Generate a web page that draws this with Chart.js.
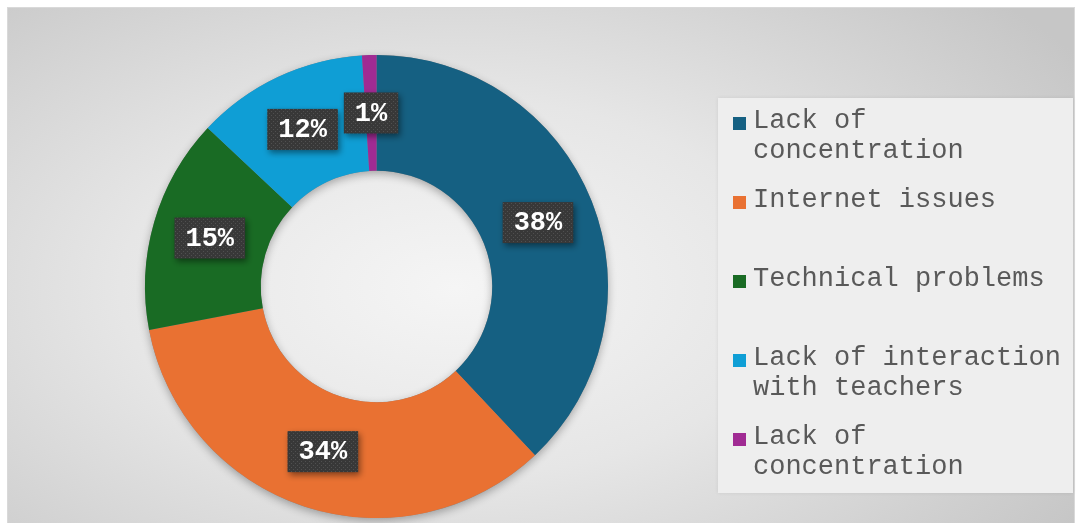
<!DOCTYPE html>
<html>
<head>
<meta charset="utf-8">
<script src="https://cdn.jsdelivr.net/npm/chart.js@4"></script>
<style>
  html, body { margin: 0; padding: 0; background: #ffffff; overflow: hidden; }
  #wrap { position: relative; width: 1082px; height: 523px; }
  #frame {
    position: absolute; left: 7px; top: 7px; width: 1068px; height: 540px;
    border: 1px solid #d9d9d9; box-sizing: border-box;
    background: radial-gradient(ellipse 70% 78% at 42% 52%, #f5f5f5 0%, #e6e6e6 45%, #c6c6c6 100%);
  }
  #chart { position: absolute; left: 0; top: 0; }
  #legend {
    position: absolute; left: 718px; top: 98px; width: 355px; height: 395px;
    background: #eeeeee; box-shadow: 0 0 4px rgba(0,0,0,0.08);
    font-family: 'Courier New', 'Liberation Mono', monospace; font-size: 27px;
    color: #595959;
  }
  .item { position: absolute; left: 15px; width: 316px; padding-left: 20px; line-height: 30px; }
  .mark { position: absolute; left: 0; top: 11px; width: 13px; height: 13px; }
</style>
</head>
<body>
<div id="wrap">
  <div id="frame"></div>
  <canvas id="chart" width="1082" height="523"></canvas>
  <div id="legend"></div>
</div>
<script>
const categories = [
  'Lack of concentration',
  'Internet issues',
  'Technical problems',
  'Lack of interaction with teachers',
  'Lack of concentration'
];
const shares = [38, 34, 15, 12, 1];
const colors = ['#156082', '#e97132', '#196b24', '#0f9ed5', '#a02b93'];

document.addEventListener('DOMContentLoaded', () => {
    const legendEl = document.getElementById('legend');
    categories.forEach((name, i) => {
        const item = document.createElement('div');
        item.className = 'item';
        item.style.top = (8 + i * 79) + 'px';
        const mark = document.createElement('span');
        mark.className = 'mark';
        mark.style.background = colors[i];
        item.appendChild(mark);
        item.appendChild(document.createTextNode(name));
        legendEl.appendChild(item);
    });

    // dotted dark fill used behind the data labels
    const pat = document.createElement('canvas');
    pat.width = 4; pat.height = 4;
    const pctx = pat.getContext('2d');
    pctx.fillStyle = '#383838';
    pctx.fillRect(0, 0, 4, 4);
    pctx.fillStyle = '#505050';
    pctx.fillRect(1, 1, 1, 1);
    pctx.fillRect(3, 3, 1, 1);

    const ringShadow = {
        id: 'ringShadow',
        beforeDatasetsDraw(chart) {
            const arc = chart.getDatasetMeta(0).data[0];
            if (!arc) return;
            const ctx = chart.ctx;
            ctx.save();
            ctx.shadowColor = 'rgba(0,0,0,0.3)';
            ctx.shadowBlur = 9;
            ctx.shadowOffsetY = 3;
            ctx.fillStyle = '#888888';
            ctx.beginPath();
            ctx.arc(arc.x, arc.y, arc.outerRadius, 0, Math.PI * 2);
            ctx.arc(arc.x, arc.y, arc.innerRadius, 0, Math.PI * 2, true);
            ctx.fill('evenodd');
            ctx.restore();
        }
    };

    const boxLabels = {
        id: 'boxLabels',
        afterDatasetsDraw(chart) {
            const ctx = chart.ctx;
            const meta = chart.getDatasetMeta(0);
            ctx.save();
            ctx.font = 'bold 27px "Courier New", "Liberation Mono", monospace';
            ctx.textAlign = 'center';
            ctx.textBaseline = 'middle';
            meta.data.forEach((arc, i) => {
                const p = arc.tooltipPosition();
                const text = shares[i] + '%';
                const w = ctx.measureText(text).width + 22;
                const h = 41;
                ctx.save();
                ctx.shadowColor = 'rgba(0,0,0,0.45)';
                ctx.shadowBlur = 6;
                ctx.shadowOffsetX = 2;
                ctx.shadowOffsetY = 3;
                ctx.fillStyle = ctx.createPattern(pat, 'repeat');
                ctx.fillRect(p.x - w / 2, p.y - h / 2, w, h);
                ctx.restore();
                ctx.fillStyle = '#ffffff';
                ctx.fillText(text, p.x, p.y + 1);
            });
            ctx.restore();
        }
    };

    const ctx = document.getElementById('chart').getContext('2d');
    new Chart(ctx, {
        type: 'doughnut',
        data: {
            labels: categories,
            datasets: [{
                data: shares,
                backgroundColor: colors,
                borderWidth: 0
            }]
        },
        options: {
            responsive: false,
            devicePixelRatio: 1,
            animation: false,
            cutout: '50%',
            layout: {
                padding: { left: 145, right: 474, top: 55, bottom: 5 }
            },
            plugins: {
                legend: { display: false },
                tooltip: { enabled: false }
            }
        },
        plugins: [ringShadow, boxLabels]
    });
});
</script>
</body>
</html>
